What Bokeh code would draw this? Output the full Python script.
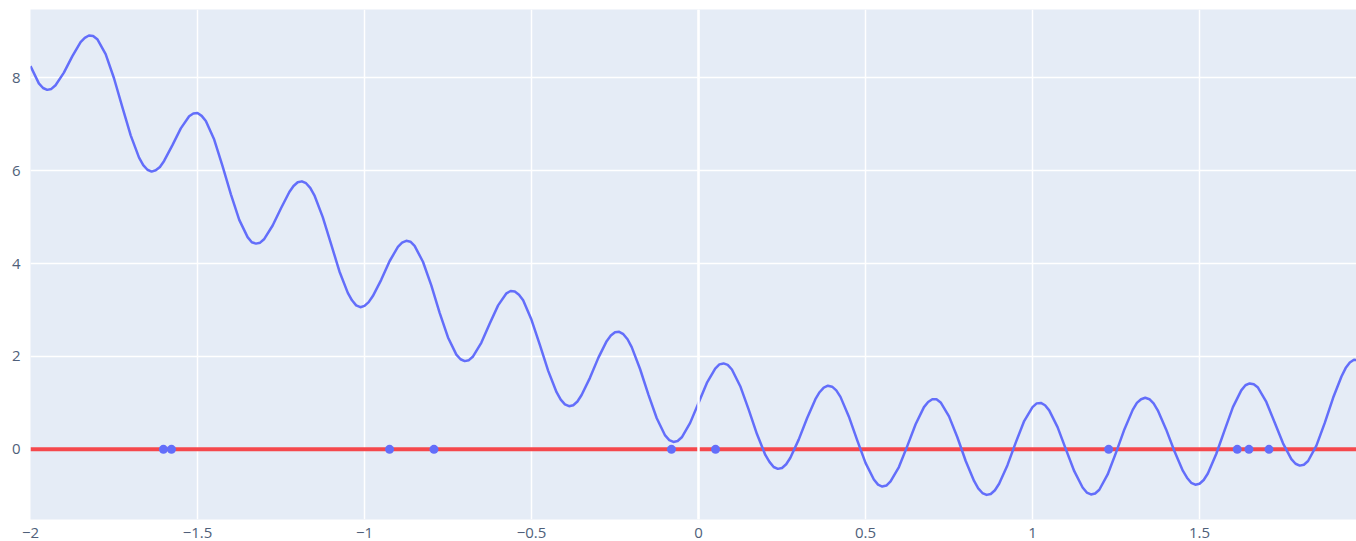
from bokeh.plotting import figure
from bokeh.models import Range1d, FixedTicker, Span
from bokeh.embed import file_html
from bokeh.resources import INLINE

# Sampled curve values (denser around the turning points)
curve_x = [
    -2.000, -1.975, -1.9625, -1.950, -1.9375, -1.925, -1.900, -1.875, -1.850, -1.8375,
    -1.825, -1.8125, -1.800, -1.775, -1.750, -1.725, -1.700, -1.675, -1.6625, -1.650,
    -1.6375, -1.625, -1.6125, -1.600, -1.575, -1.550, -1.525, -1.5125, -1.500, -1.4875,
    -1.475, -1.450, -1.425, -1.400, -1.375, -1.350, -1.3375, -1.325, -1.3125, -1.300,
    -1.275, -1.250, -1.225, -1.2125, -1.200, -1.1875, -1.175, -1.1625, -1.150, -1.125,
    -1.100, -1.075, -1.050, -1.0375, -1.025, -1.0125, -1.000, -0.9875, -0.975, -0.950,
    -0.925, -0.900, -0.8875, -0.875, -0.8625, -0.850, -0.825, -0.800, -0.775, -0.750,
    -0.725, -0.7125, -0.700, -0.6875, -0.675, -0.650, -0.625, -0.600, -0.575, -0.5625,
    -0.550, -0.5375, -0.525, -0.500, -0.475, -0.450, -0.425, -0.4125, -0.400, -0.3875,
    -0.375, -0.3625, -0.350, -0.325, -0.300, -0.275, -0.2625, -0.250, -0.2375, -0.225,
    -0.2125, -0.200, -0.175, -0.150, -0.125, -0.100, -0.0875, -0.075, -0.0625, -0.050,
    -0.025, 0.000, 0.025, 0.050, 0.0625, 0.075, 0.0875, 0.100, 0.125, 0.150,
    0.175, 0.200, 0.2125, 0.225, 0.2375, 0.250, 0.2625, 0.275, 0.300, 0.325,
    0.350, 0.3625, 0.375, 0.3875, 0.400, 0.4125, 0.425, 0.450, 0.475, 0.500,
    0.525, 0.5375, 0.550, 0.5625, 0.575, 0.600, 0.625, 0.650, 0.675, 0.6875,
    0.700, 0.7125, 0.725, 0.750, 0.775, 0.800, 0.825, 0.8375, 0.850, 0.8625,
    0.875, 0.8875, 0.900, 0.925, 0.950, 0.975, 1.000, 1.0125, 1.025, 1.0375,
    1.050, 1.075, 1.100, 1.125, 1.150, 1.1625, 1.175, 1.1875, 1.200, 1.225,
    1.250, 1.275, 1.300, 1.3125, 1.325, 1.3375, 1.350, 1.3625, 1.375, 1.400,
    1.425, 1.450, 1.4625, 1.475, 1.4875, 1.500, 1.5125, 1.525, 1.550, 1.575,
    1.600, 1.625, 1.6375, 1.650, 1.6625, 1.675, 1.700, 1.725, 1.750, 1.775,
    1.7875, 1.800, 1.8125, 1.825, 1.850, 1.875, 1.900, 1.925, 1.9375, 1.950,
    1.9625, 1.975, 1.9875, 2.000,
]
curve_y = [
    8.25, 7.88, 7.78, 7.74, 7.76, 7.84, 8.11, 8.46, 8.77, 8.86,
    8.91, 8.90, 8.83, 8.51, 7.99, 7.37, 6.76, 6.28, 6.12, 6.02,
    5.98, 6.01, 6.08, 6.21, 6.55, 6.91, 7.17, 7.23, 7.24, 7.18,
    7.07, 6.67, 6.10, 5.49, 4.94, 4.57, 4.46, 4.43, 4.45, 4.53,
    4.82, 5.19, 5.54, 5.67, 5.75, 5.77, 5.73, 5.63, 5.47, 5.00,
    4.42, 3.83, 3.37, 3.21, 3.10, 3.06, 3.09, 3.17, 3.30, 3.65,
    4.05, 4.36, 4.45, 4.49, 4.47, 4.38, 4.04, 3.53, 2.94, 2.41,
    2.04, 1.94, 1.90, 1.92, 2.00, 2.30, 2.71, 3.10, 3.36, 3.41,
    3.40, 3.33, 3.21, 2.79, 2.25, 1.69, 1.23, 1.07, 0.97, 0.93,
    0.95, 1.03, 1.17, 1.54, 1.97, 2.33, 2.45, 2.52, 2.53, 2.48,
    2.37, 2.20, 1.73, 1.18, 0.67, 0.30, 0.20, 0.16, 0.18, 0.26,
    0.57, 1.00, 1.43, 1.74, 1.83, 1.85, 1.82, 1.72, 1.36, 0.86,
    0.33, -0.12, -0.27, -0.38, -0.42, -0.40, -0.32, -0.18, 0.21, 0.67,
    1.08, 1.23, 1.33, 1.37, 1.35, 1.27, 1.13, 0.71, 0.20, -0.29,
    -0.65, -0.76, -0.80, -0.78, -0.69, -0.38, 0.07, 0.54, 0.91, 1.02,
    1.08, 1.08, 1.01, 0.71, 0.26, -0.25, -0.68, -0.84, -0.94, -0.98,
    -0.96, -0.88, -0.74, -0.34, 0.15, 0.61, 0.91, 0.99, 1.00, 0.95,
    0.84, 0.48, 0.00, -0.47, -0.82, -0.93, -0.97, -0.95, -0.87, -0.54,
    -0.07, 0.43, 0.85, 1.00, 1.08, 1.11, 1.08, 0.99, 0.84, 0.43,
    -0.04, -0.46, -0.61, -0.72, -0.76, -0.74, -0.66, -0.52, -0.10, 0.41,
    0.91, 1.27, 1.38, 1.42, 1.40, 1.33, 1.02, 0.58, 0.13, -0.21,
    -0.31, -0.35, -0.33, -0.25, 0.08, 0.57, 1.11, 1.57, 1.75, 1.87,
    1.93, 1.92, 1.86, 1.75,
]

# Baseline y = 0
base_x = [-2.0, 2.0]
base_y = [0.0, 0.0]

# Points sitting on the baseline
pts_x = [-1.602, -1.578, -0.925, -0.792, -0.081, 0.051, 1.228, 1.613, 1.648, 1.708]
pts_y = [0, 0, 0, 0, 0, 0, 0, 0, 0, 0]

x_ticks = [-2, -1.5, -1, -0.5, 0, 0.5, 1, 1.5]
x_tick_labels = ["\u22122", "\u22121.5", "\u22121", "\u22120.5", "0", "0.5", "1", "1.5"]
y_ticks = [0, 2, 4, 6, 8]
y_tick_labels = ["0", "2", "4", "6", "8"]

BG = "#E5ECF6"
BLUE = "#636EFA"
RED = "#F5484C"
TICK_COLOR = "#4f5f7a"

p = figure(
    width=1356, height=541,
    x_range=Range1d(-2.0, 1.97), y_range=Range1d(-1.51, 9.47),
    output_backend="svg", toolbar_location=None,
    background_fill_color=BG, border_fill_color="white",
    min_border_left=30, min_border_right=0, min_border_top=9, min_border_bottom=22,
)
p.outline_line_color = None

for ax in (p.xaxis[0], p.yaxis[0]):
    ax.axis_line_color = None
    ax.major_tick_line_color = None
    ax.minor_tick_line_color = None
    ax.major_label_text_font = "Open Sans"
    ax.major_label_text_font_size = "15px"
    ax.major_label_text_color = TICK_COLOR

p.xaxis[0].ticker = FixedTicker(ticks=x_ticks)
p.xaxis[0].major_label_overrides = {t: l for t, l in zip(x_ticks, x_tick_labels)}
p.xaxis[0].major_label_standoff = 2
p.yaxis[0].ticker = FixedTicker(ticks=y_ticks)
p.yaxis[0].major_label_overrides = {t: l for t, l in zip(y_ticks, y_tick_labels)}
p.yaxis[0].major_label_standoff = 4

p.xgrid.grid_line_color = "white"
p.xgrid.grid_line_width = 1.5
p.ygrid.grid_line_color = "white"
p.ygrid.grid_line_width = 1.5

# Zero line on the x axis
p.add_layout(Span(location=0, dimension="height", line_color="white", line_width=2.5))

p.line(base_x, base_y, line_color=RED, line_width=4)
p.line(curve_x, curve_y, line_color=BLUE, line_width=2.5, line_join="round")
p.scatter(pts_x, pts_y, size=9, fill_color=BLUE, line_color=None)

open("out.html", "w").write(file_html(p, INLINE))
